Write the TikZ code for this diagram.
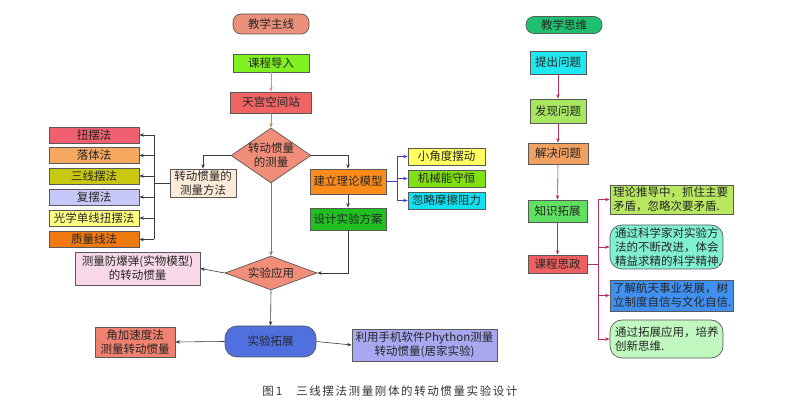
\documentclass[tikz,border=0pt]{standalone}
\usepackage{fontspec}
\setmainfont{Noto Sans CJK SC}
\usetikzlibrary{shapes.geometric,arrows.meta}
\definecolor{cZx}{HTML}{E8907A}
\definecolor{cKc}{HTML}{80F020}
\definecolor{cTg}{HTML}{F06464}
\definecolor{cDia}{HTML}{F08E7A}
\definecolor{cFf}{HTML}{FCEBD8}
\definecolor{cM1}{HTML}{F06070}
\definecolor{cM2}{HTML}{F5A860}
\definecolor{cM3}{HTML}{C8C810}
\definecolor{cM4}{HTML}{C8C8F8}
\definecolor{cM5}{HTML}{FFFF80}
\definecolor{cM6}{HTML}{F07A10}
\definecolor{cMx}{HTML}{FF8C1A}
\definecolor{cSj}{HTML}{20C020}
\definecolor{cA1}{HTML}{FFFF60}
\definecolor{cA2}{HTML}{80E010}
\definecolor{cA3}{HTML}{10E0F0}
\definecolor{cFb}{HTML}{F8D8E8}
\definecolor{cTz}{HTML}{5070E0}
\definecolor{cJj}{HTML}{F08070}
\definecolor{cSh}{HTML}{A8A8F0}
\definecolor{cSw}{HTML}{20C070}
\definecolor{cR1}{HTML}{20E8F0}
\definecolor{cR2}{HTML}{A8E860}
\definecolor{cR3}{HTML}{F0A060}
\definecolor{cR4}{HTML}{60E060}
\definecolor{cR5}{HTML}{F06060}
\definecolor{cS1}{HTML}{B8E860}
\definecolor{cS2}{HTML}{80F0D0}
\definecolor{cS3}{HTML}{4090F0}
\definecolor{cS4}{HTML}{C0F8C0}
\definecolor{cLine}{HTML}{383848}
\definecolor{cPink}{HTML}{E08898}
\definecolor{cBrown}{HTML}{C08840}
\definecolor{cBlue}{HTML}{4040C0}
\definecolor{cCrim}{HTML}{B03060}
\definecolor{cGreen}{HTML}{708060}
\begin{document}
\begin{tikzpicture}[x=1pt,y=-1pt,
  box/.style={draw=black!65, line width=0.7pt, inner sep=0pt, align=center,
    font=\fontsize{11.5}{14}\selectfont, text=black!85},
  rbox/.style={box, rounded corners=8pt},
  tbox/.style={box, align=left, inner ysep=0pt},
  dia/.style={draw=black!65, line width=0.7pt, diamond, inner sep=0pt, fill=cDia},
  txt/.style={inner sep=0pt, align=center, font=\fontsize{11.5}{14}\selectfont, text=black!85},
  conn/.style={draw=cLine, line width=0.6pt, -{Stealth[length=4.5pt,width=3.5pt]}},
  plain/.style={draw=cLine, line width=0.6pt}]
\useasboundingbox (0,0) rectangle (795,419);
% ---------- left column ----------
\node[rbox, fill=cZx, minimum width=76pt, minimum height=20pt] (zx) at (271,24) {教学主线};
\node[box, fill=cKc, minimum width=76pt, minimum height=18pt] (kc) at (271,63) {课程导入};
\node[box, fill=cTg, minimum width=81pt, minimum height=21pt] (tg) at (271,102.5) {天宫空间站};
\node[dia, minimum width=80pt, minimum height=55pt] (d1) at (271,155.5) {};
\node[txt] (d1t) at (271,155.5) {转动惯量\\的测量};
\node[box, fill=cFf, minimum width=66pt, minimum height=28pt] (ff) at (203,183) {转动惯量的\\测量方法};
\node[box, fill=cM1, minimum width=90pt, minimum height=16pt] (m1) at (94,135) {扭摆法};
\node[box, fill=cM2, minimum width=90pt, minimum height=16pt] (m2) at (94,155.5) {落体法};
\node[box, fill=cM3, minimum width=90pt, minimum height=16pt] (m3) at (94,176) {三线摆法};
\node[box, fill=cM4, minimum width=90pt, minimum height=16pt] (m4) at (94,197) {复摆法};
\node[box, fill=cM5, minimum width=90pt, minimum height=16pt] (m5) at (94,218) {光学单线扭摆法};
\node[box, fill=cM6, minimum width=90pt, minimum height=16pt] (m6) at (94,239.5) {质量线法};
\node[box, fill=cMx, minimum width=76pt, minimum height=25pt] (mx) at (348,181.5) {建立理论模型};
\node[box, fill=cSj, minimum width=76pt, minimum height=22pt] (sj) at (348,219) {设计实验方案};
\node[box, fill=cA1, minimum width=77pt, minimum height=17pt] (a1) at (446.5,156.5) {小角度摆动};
\node[box, fill=cA2, minimum width=77pt, minimum height=17pt] (a2) at (446.5,178.5) {机械能守恒};
\node[box, fill=cA3, minimum width=77pt, minimum height=17pt] (a3) at (446.5,200.5) {忽略摩擦阻力};
\node[dia, minimum width=92pt, minimum height=34pt] (d2) at (271,273) {};
\node[txt] (d2t) at (271,273) {实验应用};
\node[box, fill=cFb, minimum width=125pt, minimum height=33pt] (fb) at (137.5,268.5) {测量防爆弹(实物模型)\\的转动惯量};
\node[box, fill=cTz, rounded corners=12pt, minimum width=91pt, minimum height=31pt] (tz) at (270.5,341.5) {实验拓展};
\node[box, fill=cJj, minimum width=80pt, minimum height=30pt] (jj) at (135,342) {角加速度法\\测量转动惯量};
\node[box, fill=cSh, minimum width=145pt, minimum height=32pt] (sh) at (424.5,345) {利用手机软件Phython测量\\转动惯量(居家实验)};
% ---------- right column ----------
\node[rbox, fill=cSw, minimum width=76pt, minimum height=17pt] (sw) at (564,25) {教学思维};
\node[box, fill=cR1, minimum width=56pt, minimum height=23pt] (r1) at (558,62.5) {提出问题};
\node[box, fill=cR2, minimum width=56pt, minimum height=24pt] (r2) at (558,111) {发现问题};
\node[box, fill=cR3, minimum width=60pt, minimum height=21pt] (r3) at (558,153.5) {解决问题};
\node[box, fill=cR4, minimum width=59pt, minimum height=22pt] (r4) at (557.5,211) {知识拓展};
\node[box, fill=cR5, minimum width=59pt, minimum height=18pt] (r5) at (557.5,264) {课程思政};
\node[tbox, fill=cS1, text width=117pt, inner xsep=3pt, minimum height=29pt] (s1) at (671.5,199.5) {理论推导中，抓住主要\\矛盾，忽略次要矛盾.};
\node[tbox, fill=cS2, rounded corners=12pt, text width=103pt, inner xsep=5pt, minimum height=44pt] (s2) at (666.5,247) {通过科学家对实验方\\法的不断改进，体会\\精益求精的科学精神.};
\node[tbox, fill=cS3, text width=117pt, inner xsep=3pt, minimum height=31pt] (s3) at (671.5,295.5) {了解航天事业发展，树\\立制度自信与文化自信.};
\node[tbox, fill=cS4, rounded corners=12pt, text width=103pt, inner xsep=5pt, minimum height=38pt] (s4) at (666.5,339) {通过拓展应用，培养\\创新思维.};
% caption
\node[inner sep=0pt, font=\fontsize{11.5}{14}\selectfont, text=black!80] (cap) at (390,391) {图\,1\hspace{14pt}{\addfontfeature{LetterSpace=14}三线摆法测量刚体的转动惯量实验设计}};
% ---------- connectors ----------
\draw[conn, draw=cPink] (kc.south) -- (tg.north);
\draw[conn, draw=cBrown] (tg.south) -- (d1.north);
\draw[conn] (d1.west) -| (ff.north);
\coordinate (lb) at (154,183);
\draw[plain] (ff.west) -- (lb);
\draw[plain] (lb |- m1) -- (lb |- m6);
\foreach \m in {m1,m2,m3,m4,m5,m6} \draw[conn] (lb |- \m) -- (\m.east);
\draw[conn] (d1.east) -| (mx.north);
\draw[conn] (mx.south) -- (sj.north);
\coordinate (rb) at (397,181.5);
\draw[plain, draw=cBlue] (mx.east) -- (rb);
\draw[plain, draw=cBlue] (rb |- a1) -- (rb |- a3);
\foreach \a in {a1,a2,a3} \draw[conn, draw=cBlue] (rb |- \a) -- (\a.west);
\draw[conn, draw=cGreen] (d1.south) -- (d2.north);
\draw[conn] (sj.south) |- (d2.east);
\draw[conn] (d2.west) -- (fb.east);
\draw[conn] (d2.south) -- (tz.north);
\draw[conn] (tz.west) -- (jj.east);
\draw[conn] (tz.east) -- (sh.west);
\draw[conn, draw=cCrim] (r1.south) -- (r2.north);
\draw[conn, draw=cCrim] (r2.south) -- (r3.north);
\draw[conn, draw=cCrim] (r3.south) -- (r4.north);
\draw[conn, draw=cCrim] (r4.south) -- (r5.north);
\coordinate (sb) at (598,264);
\draw[plain, draw=cCrim] (r5.east) -- (sb);
\draw[plain, draw=cCrim] (sb |- s1) -- (sb |- s4);
\foreach \s in {s1,s2,s3,s4} \draw[conn, draw=cCrim] (sb |- \s) -- (\s.west);
\end{tikzpicture}
\end{document}
